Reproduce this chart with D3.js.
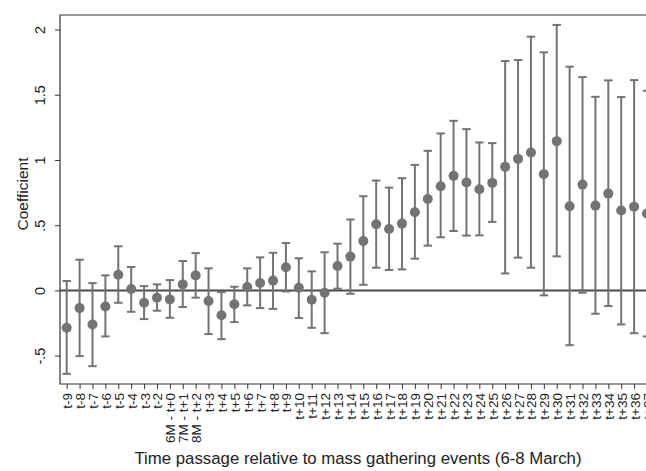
<!DOCTYPE html>
<html>
<head>
<meta charset="utf-8">
<script src="https://cdn.jsdelivr.net/npm/d3@7"></script>
<style>
  html, body { margin: 0; padding: 0; background: #fff; overflow: hidden; }
  svg { display: block; font-family: 'Liberation Sans', Arial, sans-serif; }
</style>
</head>
<body>
<svg width="646" height="471"></svg>
<script>
// periods on the x axis
const periods = ['t-9', 't-8', 't-7', 't-6', 't-5', 't-4', 't-3', 't-2',
  '6M - t+0', '7M - t+1', '8M - t+2',
  't+3', 't+4', 't+5', 't+6', 't+7', 't+8', 't+9', 't+10', 't+11', 't+12',
  't+13', 't+14', 't+15', 't+16', 't+17', 't+18', 't+19', 't+20', 't+21',
  't+22', 't+23', 't+24', 't+25', 't+26', 't+27', 't+28', 't+29', 't+30',
  't+31', 't+32', 't+33', 't+34', 't+35', 't+36', 't+37']

// point estimates
const coef = [-0.287, -0.136, -0.261, -0.123, 0.120, 0.010, -0.095, -0.056,
  -0.069, 0.046, 0.115,
  -0.082, -0.190, -0.107, 0.025, 0.056, 0.075, 0.177, 0.020, -0.072, -0.018,
  0.187, 0.259, 0.379, 0.507, 0.471, 0.512, 0.599, 0.701, 0.798,
  0.878, 0.827, 0.775, 0.824, 0.947, 1.008, 1.057, 0.891, 1.144,
  0.645, 0.811, 0.650, 0.742, 0.612, 0.642, 0.589]

// confidence interval bounds
const upper = [0.072, 0.235, 0.056, 0.115, 0.338, 0.179, 0.033, 0.046,
  0.079, 0.225, 0.286,
  0.169, -0.013, 0.028, 0.169, 0.253, 0.288, 0.363, 0.246, 0.146, 0.292,
  0.358, 0.543, 0.722, 0.842, 0.788, 0.860, 0.962, 1.070, 1.203,
  1.300, 1.236, 1.134, 1.129, 1.758, 1.766, 1.945, 1.825, 2.035,
  1.715, 1.635, 1.484, 1.610, 1.482, 1.612, 1.530]

const lower = [-0.640, -0.504, -0.581, -0.353, -0.095, -0.164, -0.220, -0.156,
  -0.210, -0.128, -0.056,
  -0.335, -0.374, -0.243, -0.115, -0.136, -0.142, -0.008, -0.212, -0.287, -0.328,
  0.013, -0.026, 0.043, 0.174, 0.156, 0.161, 0.243, 0.343, 0.407,
  0.455, 0.420, 0.422, 0.525, 0.130, 0.251, 0.174, -0.038, 0.261,
  -0.420, -0.018, -0.179, -0.120, -0.261, -0.328, -0.353]

const yTicks = [-0.5, 0, 0.5, 1, 1.5, 2]
const yTickLabels = ['-.5', '0', '.5', '1', '1.5', '2']

const plot = { left: 60, top: 15, bottom: 384, right: 720 }
const markColor = '#737373'
const frameColor = '#333'

const data = periods.map((p, i) => ({ period: p, b: coef[i], hi: upper[i], lo: lower[i] }))

const svg = d3.select('svg')

const xScale = d3.scalePoint()
  .domain(periods)
  .range([66.7, 647])

const yScale = d3.scaleLinear()
  .domain([-0.5, 2])
  .range([355.6, 29.5])

// frame (left, top, bottom)
svg.append('path')
  .attr('d', `M${plot.right},${plot.top}H${plot.left}V${plot.bottom}H${plot.right}`)
  .attr('fill', 'none')
  .attr('stroke', frameColor)
  .attr('stroke-width', 1.2)

// zero line
svg.append('line')
  .attr('x1', plot.left)
  .attr('x2', plot.right)
  .attr('y1', yScale(0))
  .attr('y2', yScale(0))
  .attr('stroke', '#4a4a4a')
  .attr('stroke-width', 2)

// error bars
const capHalf = 4.2
const bars = svg.append('g')
  .attr('stroke', markColor)
  .attr('stroke-width', 2)

bars.selectAll('line.stem')
  .data(data)
  .enter().append('line')
  .attr('class', 'stem')
  .attr('x1', d => xScale(d.period))
  .attr('x2', d => xScale(d.period))
  .attr('y1', d => yScale(d.hi))
  .attr('y2', d => yScale(d.lo))

bars.selectAll('line.cap-hi')
  .data(data)
  .enter().append('line')
  .attr('class', 'cap-hi')
  .attr('x1', d => xScale(d.period) - capHalf)
  .attr('x2', d => xScale(d.period) + capHalf)
  .attr('y1', d => yScale(d.hi))
  .attr('y2', d => yScale(d.hi))

bars.selectAll('line.cap-lo')
  .data(data)
  .enter().append('line')
  .attr('class', 'cap-lo')
  .attr('x1', d => xScale(d.period) - capHalf)
  .attr('x2', d => xScale(d.period) + capHalf)
  .attr('y1', d => yScale(d.lo))
  .attr('y2', d => yScale(d.lo))

// point estimates
svg.selectAll('circle')
  .data(data)
  .enter().append('circle')
  .attr('r', 5)
  .attr('cx', d => xScale(d.period))
  .attr('cy', d => yScale(d.b))
  .attr('fill', markColor)

// y axis
const yAxis = d3.axisLeft(yScale)
  .tickValues(yTicks)
  .tickFormat((d, i) => yTickLabels[i])
  .tickSize(5)
  .tickPadding(0)

const gy = svg.append('g')
  .attr('transform', `translate(${plot.left},0)`)
  .call(yAxis)
gy.select('.domain').remove()
gy.selectAll('.tick line').attr('stroke', frameColor)
gy.selectAll('.tick text')
  .attr('x', null).attr('dy', null)
  .attr('transform', 'translate(-15,0) rotate(-90)')
  .style('text-anchor', 'middle')
  .attr('fill', '#222')
  .attr('font-size', 14.5)

// x axis
const xAxis = d3.axisBottom(xScale)
  .tickSize(5)

const gx = svg.append('g')
  .attr('transform', `translate(0,${plot.bottom})`)
  .call(xAxis)
gx.select('.domain').remove()
gx.selectAll('.tick line').attr('stroke', frameColor)
gx.selectAll('.tick text')
  .attr('y', null).attr('dy', null)
  .attr('transform', 'translate(5,9) rotate(-90)')
  .style('text-anchor', 'end')
  .attr('fill', '#222')
  .attr('font-size', 13.5)

// axis titles
svg.append('text')
  .attr('transform', 'translate(28,194) rotate(-90)')
  .style('text-anchor', 'middle')
  .attr('font-size', 15.5)
  .attr('fill', '#222')
  .text('Coefficient')

svg.append('text')
  .attr('x', 358)
  .attr('y', 464)
  .style('text-anchor', 'middle')
  .attr('font-size', 16.8)
  .attr('fill', '#222')
  .text('Time passage relative to mass gathering events (6-8 March)')
</script>
</body>
</html>
